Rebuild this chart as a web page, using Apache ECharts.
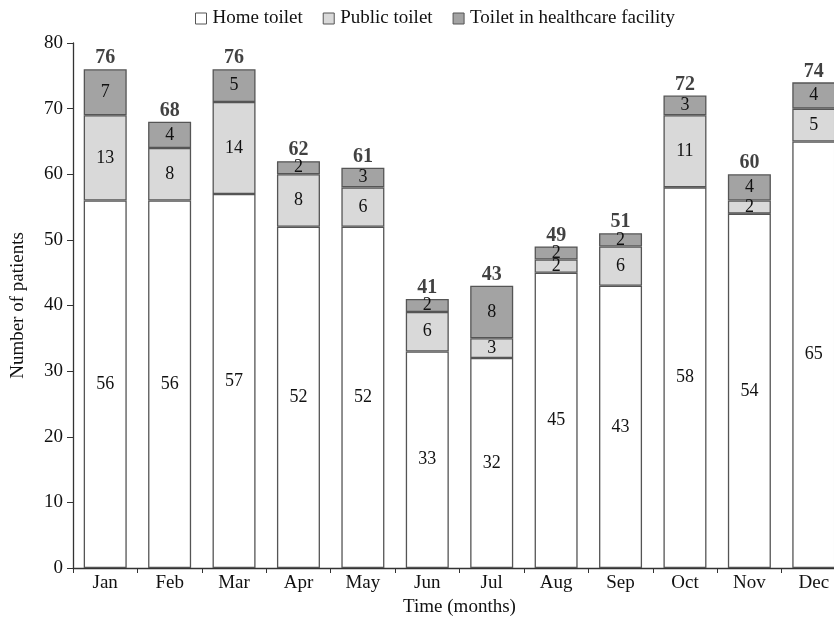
<!DOCTYPE html>
<html>
<head>
<meta charset="utf-8">
<script src="https://cdn.jsdelivr.net/npm/echarts@6/dist/echarts.min.js"></script>
<style>
html, body { margin: 0; padding: 0; background: #fff; }
#chart { width: 834px; height: 620px; }
</style>
</head>
<body>
<div id="chart"></div>
<script>
const months = ['Jan', 'Feb', 'Mar', 'Apr', 'May', 'Jun', 'Jul', 'Aug', 'Sep', 'Oct', 'Nov', 'Dec'];
const homeToilet = [56, 56, 57, 52, 52, 33, 32, 45, 43, 58, 54, 65];
const publicToilet = [13, 8, 14, 8, 6, 6, 3, 2, 6, 11, 2, 5];
const healthToilet = [7, 4, 5, 2, 3, 2, 8, 2, 2, 3, 4, 4];
const totals = [76, 68, 76, 62, 61, 41, 43, 49, 51, 72, 60, 74];

const font = 'Liberation Serif';
const edge = '#555';

var chart = echarts.init(document.getElementById('chart'));

function seg(name, data, color) {
  return {
    name: name,
    type: 'bar',
    stack: 'all',
    data: data,
    barWidth: 43,
    itemStyle: { color: color, borderColor: edge, borderWidth: 1.3 },
    label: {
      show: true,
      position: 'inside',
      fontFamily: font,
      fontSize: 18,
      color: '#111'
    }
  };
}

var option = {
  animation: false,
  textStyle: { fontFamily: font },
  legend: {
    top: 4,
    left: 190,
    itemWidth: 11,
    itemHeight: 11,
    itemGap: 20,
    icon: 'rect',
    textStyle: { fontFamily: font, fontSize: 19, color: '#111', padding: [0, 0, 0, 1] },
    data: [
      { name: 'Home toilet', itemStyle: { color: '#fff', borderColor: edge, borderWidth: 1 } },
      { name: 'Public toilet', itemStyle: { color: '#d9d9d9', borderColor: edge, borderWidth: 1 } },
      { name: 'Toilet in healthcare facility', itemStyle: { color: '#a3a3a3', borderColor: edge, borderWidth: 1 } }
    ]
  },
  grid: { left: 73, width: 773, top: 43, height: 525, containLabel: false, outerBoundsMode: 'none' },
  xAxis: {
    type: 'category',
    data: months,
    name: 'Time (months)',
    nameLocation: 'middle',
    nameGap: 29,
    nameTextStyle: { fontFamily: font, fontSize: 19, color: '#111' },
    axisLine: { lineStyle: { color: '#333', width: 1.3 } },
    axisTick: { show: true, length: 5, alignWithLabel: false, lineStyle: { color: '#333' } },
    axisLabel: { fontFamily: font, fontSize: 19, color: '#111', margin: 6 }
  },
  yAxis: {
    type: 'value',
    min: 0,
    max: 80,
    interval: 10,
    name: 'Number of patients',
    nameLocation: 'middle',
    nameGap: 45,
    nameTextStyle: { fontFamily: font, fontSize: 19, color: '#111' },
    splitLine: { show: false },
    axisLine: { show: true, lineStyle: { color: '#333', width: 1.3 } },
    axisTick: { show: true, length: 6, lineStyle: { color: '#333' } },
    axisLabel: { fontFamily: font, fontSize: 19, color: '#111', margin: 10 }
  },
  series: [
    seg('Home toilet', homeToilet, '#fff'),
    seg('Public toilet', publicToilet, '#d9d9d9'),
    seg('Toilet in healthcare facility', healthToilet, '#a3a3a3'),
    {
      name: 'total',
      type: 'scatter',
      data: totals,
      symbolSize: 0,
      silent: true,
      label: {
        show: true,
        position: 'top',
        distance: 1,
        fontFamily: font,
        fontSize: 20,
        fontWeight: 'bold',
        color: '#111'
      }
    }
  ]
};

chart.setOption(option);
</script>
</body>
</html>
